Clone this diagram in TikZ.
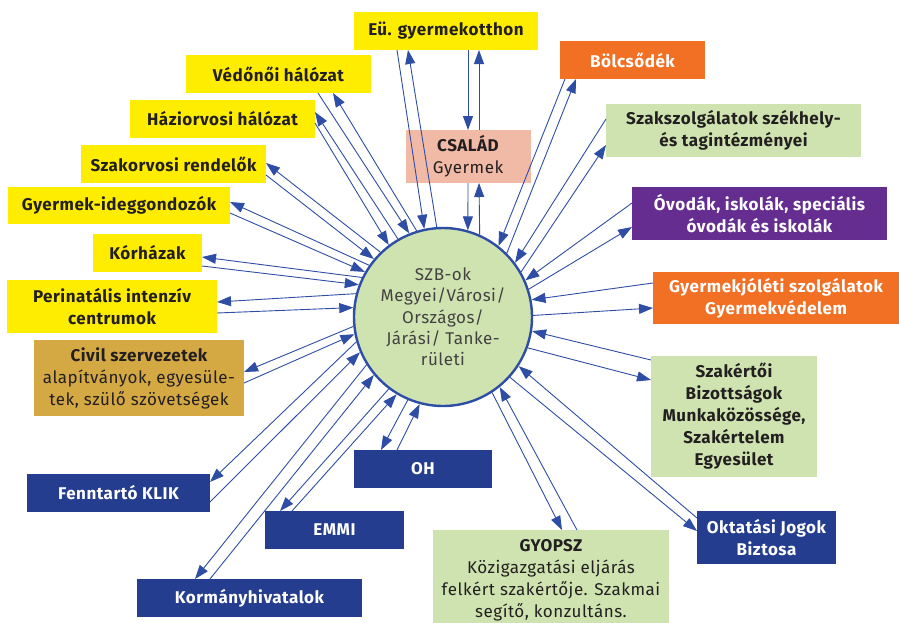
\documentclass[tikz,border=0pt]{standalone}
\usepackage{fontspec}
\setmainfont[LetterSpace=3]{Fira Sans}
\usetikzlibrary{arrows.meta}
\tikzset{module/.style={inner sep=0pt, outer sep=0pt, align=center, font=\bfseries\fontsize{17}{22}\selectfont}}
\definecolor{lblue}{RGB}{46,77,165}
\definecolor{myellow}{RGB}{255,237,0}
\definecolor{morange}{RGB}{242,112,35}
\definecolor{mgreen}{RGB}{207,227,176}
\definecolor{msalmon}{RGB}{240,186,166}
\definecolor{mpurple}{RGB}{102,45,145}
\definecolor{mgold}{RGB}{212,168,67}
\definecolor{mnavy}{RGB}{37,61,142}
\definecolor{mtext}{RGB}{35,31,32}

\begin{document}
\begin{tikzpicture}[x=1pt, y=-1pt,
    yellowbox/.style={module, fill=myellow, text=mtext},
    orangebox/.style={module, fill=morange, text=white},
    greenbox/.style={module, fill=mgreen, text=mtext},
    navybox/.style={module, fill=mnavy, text=white},
    arrow/.style={-{Triangle[length=14pt,width=10pt]}, line width=0.9pt, draw=lblue},
]
\clip (0,0) rectangle (899,622);

% center
\node[circle, draw=lblue, line width=2.4pt, fill=mgreen, minimum size=178pt, inner sep=0pt, align=center,
      font=\fontsize{17}{21.3}\selectfont, text=mtext!85] (szb) at (443,317)
      {SZB-ok\\Megyei/Városi/\\Országos/\\Járási/ Tanke-\\rületi};

% top
\node[yellowbox, minimum width=184pt, minimum height=38pt] (eu) at (446,31) {Eü. gyermekotthon};
\node[module, fill=msalmon, text=mtext, minimum width=125pt, minimum height=53pt] (csalad) at (468,156.5) {CSALÁD\\{\mdseries Gyermek}};
\node[orangebox, minimum width=145pt, minimum height=38pt] (bolcs) at (632.5,60) {Bölcsődék};

% right
\node[greenbox, minimum width=255pt, minimum height=53pt] (szaksz) at (733.5,130.5) {Szakszolgálatok székhely-\\és tagintézményei};
\node[module, fill=mpurple, text=white, minimum width=255pt, minimum height=53pt] (ovoda) at (759.5,213.5) {Óvodák, iskolák, speciális\\óvodák és iskolák};
\node[orangebox, minimum width=246pt, minimum height=52pt] (gyjol) at (776,298) {Gyermekjóléti szolgálatok\\Gyermekvédelem};
\node[greenbox, minimum width=166pt, minimum height=121pt] (szakert) at (734,416.5) {Szakértői\\Bizottságok\\Munkaközössége,\\Szakértelem\\Egyesület};
\node[navybox, minimum width=139pt, minimum height=53pt] (oktat) at (766.5,537.5) {Oktatási Jogok\\Biztosa};

% bottom
\node[greenbox, minimum width=236pt, minimum height=100pt] (gyopsz) at (551,580) {GYOPSZ\\{\mdseries Közigazgatási eljárás}\\{\mdseries felkért szakértője. Szakmai}\\{\mdseries segítő, konzultáns.}};
\node[navybox, minimum width=138pt, minimum height=38pt] (oh) at (423,469) {OH};
\node[navybox, minimum width=139pt, minimum height=38pt] (emmi) at (334.5,530) {EMMI};
\node[navybox, minimum width=225pt, minimum height=38pt] (korm) at (249.5,598) {Kormányhivatalok};
\node[navybox, minimum width=183pt, minimum height=38pt] (klik) at (118.5,493) {Fenntartó KLIK};

% left
\node[module, fill=mgold, text=mtext, minimum width=210pt, minimum height=76pt] (civil) at (139,378) {Civil szervezetek\\{\mdseries alapítványok, egyesüle-}\\{\mdseries tek, szülő szövetségek}};
\node[yellowbox, minimum width=210pt, minimum height=53pt] (perin) at (112,306.5) {Perinatális intenzív\\centrumok};
\node[yellowbox, minimum width=109pt, minimum height=38pt] (korh) at (147.5,253) {Kórházak};
\node[yellowbox, minimum width=222pt, minimum height=37pt] (gyideg) at (119,205.5) {Gyermek-ideggondozók};
\node[yellowbox, minimum width=185pt, minimum height=38pt] (szakorv) at (173.5,164) {Szakorvosi rendelők};
\node[yellowbox, minimum width=185pt, minimum height=38pt] (hazi) at (222.5,119) {Háziorvosi hálózat};
\node[yellowbox, minimum width=185pt, minimum height=38pt] (vedo) at (278.5,74) {Védőnői hálózat};

% connectors
\draw[arrow] ([xshift=22pt]eu.south) -- (csalad.north);
\draw[arrow] ([xshift=11pt]csalad.north) -- ([xshift=33pt]eu.south);
\draw[arrow] (csalad.south) -- (szb.74);
\draw[arrow] (szb.66.8) -- ([xshift=11pt]csalad.south);
\draw[arrow] ([xshift=-49pt]eu.south) -- (szb.102);
\draw[arrow] (szb.94) -- ([xshift=-38pt]eu.south);
\draw[arrow] ([xshift=-67.5pt]bolcs.south) -- (szb.52);
\draw[arrow] (szb.45) -- ([xshift=-56.5pt]bolcs.south);

\draw[arrow] ([yshift=11.5pt]szaksz.west) -- (szb.37);
\draw[arrow] (szb.30) -- ([yshift=-14.5pt]szaksz.west);
\draw[arrow] ([yshift=10.5pt]ovoda.west) -- (szb.24);
\draw[arrow] (szb.18) -- ([yshift=-13.5pt]ovoda.west);
\draw[arrow] ([yshift=15pt]gyjol.west) -- (szb.11);
\draw[arrow] (szb.1) -- ([yshift=-10pt]gyjol.west);
\draw[arrow] ([yshift=-4pt]szakert.north west) -- (szb.-9.5);
\draw[arrow] (szb.-20) -- ([yshift=-24pt]szakert.north west);
\draw[arrow] ([yshift=-7pt]oktat.north west) -- (szb.-33);
\draw[arrow] (szb.-42) -- ([yshift=-20pt]oktat.north west);

\draw[arrow] (szb.-57) -- ([xshift=11pt]gyopsz.north);
\draw[arrow] ([xshift=26pt]gyopsz.north) -- (szb.-51);
\draw[arrow] (szb.-113) -- ([xshift=-42pt]oh.north);
\draw[arrow] ([xshift=-26pt]oh.north) -- (szb.-105);
\draw[arrow] (szb.-127) -- ([xshift=-54.5pt]emmi.north);
\draw[arrow] ([xshift=-42.5pt]emmi.north) -- (szb.-121);
\draw[arrow] (szb.-148) -- ([xshift=-54.5pt]korm.north);
\draw[arrow] ([xshift=-39.5pt]korm.north) -- (szb.-140);
\draw[arrow] (szb.-164) -- ([yshift=11pt]klik.east);
\draw[arrow] ([yshift=-9pt]klik.east) -- (szb.-157);

\draw[arrow] (szb.186) -- ([yshift=6pt]civil.east);
\draw[arrow] ([yshift=-5pt]civil.east) -- (szb.191);
\draw[arrow] (szb.165) -- ([yshift=4.5pt]perin.east);
\draw[arrow] ([yshift=-6.5pt]perin.east) -- (szb.174);
\draw[arrow] (szb.154) -- ([yshift=-4pt]korh.east);
\draw[arrow] ([yshift=-13pt]korh.east) -- (szb.159);
\draw[arrow] (szb.145) -- ([yshift=3.5pt]gyideg.east);
\draw[arrow] ([yshift=-7.5pt]gyideg.east) -- (szb.150);
\draw[arrow] (szb.134) -- ([yshift=1pt]szakorv.east);
\draw[arrow] ([yshift=-11pt]szakorv.east) -- (szb.140);
\draw[arrow] (szb.120) -- ([yshift=7pt]hazi.east);
\draw[arrow] ([yshift=-4pt]hazi.east) -- (szb.127);
\draw[arrow] ([xshift=39.5pt]vedo.south) -- (szb.112);
\draw[arrow] (szb.107) -- ([xshift=54.5pt]vedo.south);

\end{tikzpicture}
\end{document}
